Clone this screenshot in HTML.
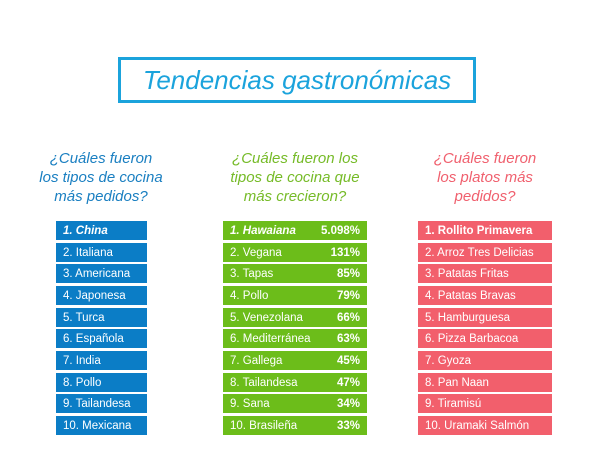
<!DOCTYPE html>
<html><head><meta charset="utf-8"><style>
body{margin:0;width:607px;height:465px;background:#fff;position:relative;font-family:"Liberation Sans",sans-serif;overflow:hidden}
.title{position:absolute;left:118px;top:57px;width:352px;height:40px;border:3px solid #1ba3dc;color:#1ba3dc;font-style:italic;font-size:26px;text-align:center;line-height:40px}
.h{position:absolute;top:149px;font-style:italic;font-size:15px;line-height:19px;text-align:center;white-space:nowrap}
.col{position:absolute;top:221px}
.r{height:19px;margin-bottom:2.67px;color:#fff;font-size:11.5px;line-height:20px;padding:0 7px;display:flex;justify-content:space-between;box-sizing:border-box}
.r b{font-weight:bold}
.b .r{background:#0b7dc6}.g .r{background:#6cbd1a}.rd .r{background:#f25f6c}
</style></head><body>
<div class="title">Tendencias gastronómicas</div>
<div class="h" style="left:30px;width:142px;color:#1a7fc1">¿Cuáles fueron<br>los tipos de cocina<br>más pedidos?</div>
<div class="h" style="left:215px;width:160px;color:#76bb28">¿Cuáles fueron los<br>tipos de cocina que<br>más crecieron?</div>
<div class="h" style="left:415px;width:140px;color:#f0606e">¿Cuáles fueron<br>los platos más<br>pedidos?</div>
<div class="col b" style="left:56px;width:91px">
<div class="r"><i><b>1. China</b></i></div><div class="r">2. Italiana</div><div class="r">3. Americana</div><div class="r">4. Japonesa</div><div class="r">5. Turca</div><div class="r">6. Española</div><div class="r">7. India</div><div class="r">8. Pollo</div><div class="r">9. Tailandesa</div><div class="r">10. Mexicana</div>
</div>
<div class="col g" style="left:223px;width:144px">
<div class="r"><i><b>1. Hawaiana</b></i><b>5.098%</b></div><div class="r">2. Vegana<b>131%</b></div><div class="r">3. Tapas<b>85%</b></div><div class="r">4. Pollo<b>79%</b></div><div class="r">5. Venezolana<b>66%</b></div><div class="r">6. Mediterránea<b>63%</b></div><div class="r">7. Gallega<b>45%</b></div><div class="r">8. Tailandesa<b>47%</b></div><div class="r">9. Sana<b>34%</b></div><div class="r">10. Brasileña<b>33%</b></div>
</div>
<div class="col rd" style="left:418px;width:134px">
<div class="r"><b>1. Rollito Primavera</b></div><div class="r">2. Arroz Tres Delicias</div><div class="r">3. Patatas Fritas</div><div class="r">4. Patatas Bravas</div><div class="r">5. Hamburguesa</div><div class="r">6. Pizza Barbacoa</div><div class="r">7. Gyoza</div><div class="r">8. Pan Naan</div><div class="r">9. Tiramisú</div><div class="r">10. Uramaki Salmón</div>
</div>
</body></html>
